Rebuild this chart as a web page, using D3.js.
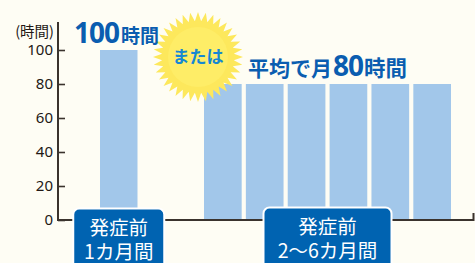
<!DOCTYPE html>
<html lang="ja">
<head>
<meta charset="UTF-8">
<title>発症前の時間外労働</title>
<script src="https://d3js.org/d3.v7.min.js"></script>
<style>
  html, body { margin: 0; padding: 0; background: #fefdf4; }
  svg { display: block; }
</style>
</head>
<body>
<div id="chart"></div>
<script>
// data
var monthsA = ["1カ月目"];
var valuesA = [100];
var monthsB = ["2カ月目", "3カ月目", "4カ月目", "5カ月目", "6カ月目", "7カ月目"];
var valuesB = [80, 80, 80, 80, 80, 80];
var periodLabels = [["発症前", "1カ月間"], ["発症前", "2〜6カ月間"]];
var yTicks = [0, 20, 40, 60, 80, 100];
var unitLabel = "(時間)";

var width = 475, height = 263;
var jp = "'Noto Sans CJK JP', 'Noto Sans', sans-serif";
var barColor = "#a2c7ea", boxColor = "#0063b1", titleColor = "#0a5db0";

var svg = d3.select("#chart").append("svg")
  .attr("width", width)
  .attr("height", height)
  .style("background", "#fefdf4");

var y = d3.scaleLinear().domain([0, 100]).range([220, 50]);
var xA = d3.scaleBand().domain(monthsA).range([100, 137.5]).padding(0);
var xB = d3.scaleBand().domain(monthsB).range([204, 451]).paddingInner(0.1).paddingOuter(0);

// y axis
var yAxis = svg.append("g")
  .attr("transform", "translate(58,0)")
  .call(d3.axisLeft(y).tickValues(yTicks).tickSize(-7).tickSizeOuter(0).tickPadding(5));
yAxis.select(".domain").remove();
yAxis.selectAll(".tick line").attr("stroke", "#3a332d").attr("stroke-width", 1.6);
yAxis.selectAll(".tick text")
  .attr("fill", "#231815")
  .style("font-family", "'Noto Sans', sans-serif")
  .style("font-size", "15px");
yAxis.append("line")
  .attr("y1", y(0) + 1).attr("y2", y(116.5))
  .attr("stroke", "#3a332d").attr("stroke-width", 2);

svg.append("text")
  .attr("x", 54).attr("y", 37)
  .attr("text-anchor", "end")
  .attr("fill", "#231815")
  .style("font-family", jp)
  .style("font-size", "14.5px")
  .text(unitLabel);

// bars
svg.append("g").selectAll("rect").data(valuesA).join("rect")
  .attr("x", function(d, i) { return xA(monthsA[i]); })
  .attr("width", xA.bandwidth())
  .attr("y", function(d) { return y(d); })
  .attr("height", function(d) { return y(0) - y(d); })
  .attr("fill", barColor);

svg.append("g").selectAll("rect").data(valuesB).join("rect")
  .attr("x", function(d, i) { return xB(monthsB[i]); })
  .attr("width", xB.bandwidth())
  .attr("y", function(d) { return y(d); })
  .attr("height", function(d) { return y(0) - y(d); })
  .attr("fill", barColor);

// x axis
svg.append("path")
  .attr("d", "M58," + y(0) + "H473.5V" + (y(0) - 7))
  .attr("fill", "none")
  .attr("stroke", "#3a332d")
  .attr("stroke-width", 2);

// starburst
var nSpikes = 36;
var burstPts = d3.range(nSpikes * 2).map(function(i) {
  return [i * Math.PI / nSpikes, i % 2 ? 36 : 45];
});
svg.append("path")
  .attr("transform", "translate(198,57)")
  .attr("d", d3.lineRadial().curve(d3.curveLinearClosed)(burstPts))
  .attr("fill", "#fde85c");
svg.append("circle")
  .attr("cx", 198).attr("cy", 57).attr("r", 30)
  .attr("fill", "#fff06e").attr("opacity", 0.6);
svg.append("text")
  .attr("x", 198).attr("y", 63)
  .attr("text-anchor", "middle")
  .attr("fill", "#1688d2")
  .style("font-family", jp)
  .style("font-weight", 700)
  .style("font-size", "17px")
  .text("または");

// headline labels
var t1 = svg.append("text")
  .attr("x", 74).attr("y", 43)
  .attr("fill", titleColor)
  .style("font-family", jp)
  .style("font-weight", 700);
t1.append("tspan").style("font-family", "'Noto Sans', sans-serif").style("font-size", "28px")
  .attr("letter-spacing", "-1").text(d3.max(valuesA));
t1.append("tspan").attr("dx", 2).style("font-size", "19px").text("時間");

var t2 = svg.append("text")
  .attr("x", 248).attr("y", 76)
  .attr("fill", titleColor)
  .style("font-family", jp)
  .style("font-weight", 700);
t2.append("tspan").style("font-size", "21px").text("平均で月");
t2.append("tspan").attr("dx", 1).style("font-family", "'Noto Sans', sans-serif").style("font-size", "28px")
  .attr("letter-spacing", "-1").text(d3.mean(valuesB));
t2.append("tspan").attr("dx", 1).style("font-size", "21.5px").text("時間");

// period boxes
var groups = [
  { cx: xA(monthsA[0]) + xA.bandwidth() / 2, w: 91, top: 208.5, lines: periodLabels[0] },
  { cx: (xB(monthsB[0]) + xB(monthsB[monthsB.length - 1]) + xB.bandwidth()) / 2, w: 128, top: 207.5, lines: periodLabels[1] }
];
var box = svg.append("g").selectAll("g").data(groups).join("g");
box.append("rect")
  .attr("x", function(d) { return d.cx - d.w / 2; })
  .attr("y", function(d) { return d.top; })
  .attr("width", function(d) { return d.w; })
  .attr("height", 80)
  .attr("rx", 6)
  .attr("fill", boxColor)
  .attr("stroke", "#ffffff")
  .attr("stroke-width", 2);
box.each(function(d) {
  var g = d3.select(this);
  d.lines.forEach(function(line, i) {
    g.append("text")
      .attr("x", d.cx)
      .attr("y", d.top + 26 + i * 24.5)
      .attr("text-anchor", "middle")
      .attr("fill", "#ffffff")
      .style("font-family", jp)
      .style("font-size", "19.5px")
      .text(line);
  });
});
</script>
</body>
</html>
